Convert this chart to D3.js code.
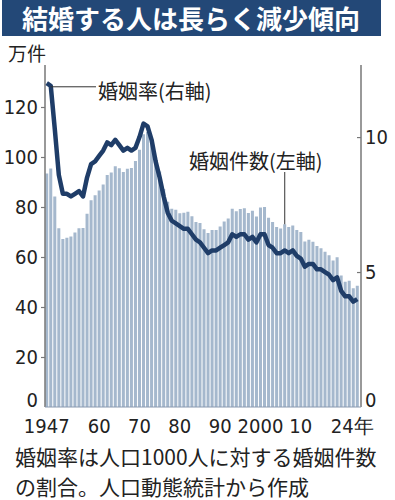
<!DOCTYPE html>
<html>
<head>
<meta charset="utf-8">
<script src="https://cdn.jsdelivr.net/npm/d3@7"></script>
<style>
  body { margin: 0; background: #fff; }
  .num { font-family: "Liberation Sans Narrow", "DejaVu Sans Condensed", sans-serif; font-size: 20px; fill: #222; }
  .jp { font-family: "Noto Sans CJK JP", sans-serif; fill: #222; }
</style>
</head>
<body>
<div id="chart"></div>
<script>
// marriages per year (万件) and marriage rate (per 1000 people), 1947-2024
const years = d3.range(1947, 2025);
const marriages = [
  93.4, 95.4, 84.2, 71.5, 67.2, 67.7, 68.2, 69.8, 71.5, 71.6,
  77.3, 82.7, 84.7, 86.6, 89.0, 92.8, 93.8, 96.3, 95.5, 94.0,
  95.3, 95.6, 98.4, 102.9, 109.1, 110.0, 107.2, 100.0, 94.2, 87.2,
  82.1, 79.3, 78.9, 77.5, 77.7, 78.1, 76.3, 74.0, 73.6, 71.1,
  69.6, 70.8, 70.8, 72.2, 74.2, 75.4, 79.3, 78.3, 79.2, 79.5,
  77.6, 78.5, 76.2, 79.8, 80.0, 75.7, 74.0, 72.0, 71.4, 73.1,
  72.0, 72.6, 70.8, 70.0, 66.2, 66.9, 66.1, 64.4, 63.5, 62.1,
  60.7, 58.6, 59.9, 52.6, 50.1, 50.5, 47.5, 48.5
];
const rate = [
  12.0, 11.9, 10.3, 8.6, 7.9, 7.9, 7.8, 7.9, 8.0, 7.8,
  8.5, 9.0, 9.1, 9.3, 9.5, 9.8, 9.7, 9.9, 9.7, 9.5,
  9.6, 9.5, 9.6, 10.0, 10.5, 10.4, 9.9, 9.1, 8.5, 7.8,
  7.2, 6.9, 6.8, 6.7, 6.6, 6.6, 6.4, 6.2, 6.1, 5.9,
  5.7, 5.8, 5.8, 5.9, 6.0, 6.1, 6.4, 6.3, 6.4, 6.4,
  6.2, 6.3, 6.1, 6.4, 6.4, 6.0, 5.9, 5.7, 5.7, 5.8,
  5.7, 5.8, 5.6, 5.5, 5.2, 5.3, 5.3, 5.1, 5.1, 5.0,
  4.9, 4.7, 4.8, 4.3, 4.1, 4.1, 3.9, 4.0
];
const leftTicks = [0, 20, 40, 60, 80, 100, 120];
const rightTicks = [0, 5, 10];
const xTickYears = [1947, 1960, 1970, 1980, 1990, 2000, 2010, 2024];
const xTickLabels = ["1947", "60", "70", "80", "90", "2000", "10", "24年"];

const W = 395, H = 500;
const margin = {left: 45, right: 361, top: 65, bottom: 407};

const svg = d3.select("#chart").append("svg")
    .attr("width", W)
    .attr("height", H);

// title banner
svg.append("rect")
    .attr("x", 2).attr("y", 0)
    .attr("width", 379).attr("height", 36)
    .attr("fill", "#234877");
svg.append("text")
    .attr("class", "jp")
    .attr("x", 22).attr("y", 29)
    .attr("font-size", 26)
    .attr("font-weight", 700)
    .style("fill", "#fff")
    .text("結婚する人は長らく減少傾向");

const x = d3.scaleBand()
    .domain(years)
    .range([margin.left, margin.right - 2])
    .paddingInner(0.25)
    .paddingOuter(0.05);
const yL = d3.scaleLinear().domain([0, 136.8]).range([margin.bottom, margin.top]);
const yR = d3.scaleLinear().domain([0, 12.67]).range([margin.bottom, margin.top]);

// bars
svg.append("g")
  .selectAll("rect")
  .data(years)
  .join("rect")
    .attr("x", d => x(d))
    .attr("y", (d, i) => yL(marriages[i]))
    .attr("width", x.bandwidth())
    .attr("height", (d, i) => margin.bottom - yL(marriages[i]))
    .attr("fill", "#a5b8cd");

// axes
const axL = svg.append("g")
    .attr("transform", "translate(" + margin.left + ",0)")
    .call(d3.axisLeft(yL).tickValues(leftTicks).tickSize(4).tickPadding(3));
const axR = svg.append("g")
    .attr("transform", "translate(" + margin.right + ",0)")
    .call(d3.axisRight(yR).tickValues(rightTicks).tickSize(-4).tickPadding(5));
[axL, axR].forEach(ax => {
  ax.select(".domain").remove();
  ax.selectAll("line").attr("stroke", "#777").attr("stroke-width", 1.2);
  ax.selectAll("text").attr("class", "num").attr("fill", null);
  // zero labels sit above the baseline
  ax.selectAll(".tick").filter(d => d === 0).select("text").attr("dy", "-0.05em");
  ax.selectAll(".tick").filter(d => d === 0).select("line").remove();
});
axR.selectAll("text").attr("x", 4);
svg.append("line")
    .attr("x1", margin.left).attr("x2", margin.left)
    .attr("y1", margin.top).attr("y2", margin.bottom)
    .attr("stroke", "#777").attr("stroke-width", 1.5);
svg.append("line")
    .attr("x1", margin.right).attr("x2", margin.right)
    .attr("y1", margin.top).attr("y2", margin.bottom)
    .attr("stroke", "#777").attr("stroke-width", 1.5);
svg.append("line")
    .attr("x1", margin.left).attr("x2", margin.right)
    .attr("y1", margin.bottom).attr("y2", margin.bottom)
    .attr("stroke", "#8a9ab0").attr("stroke-width", 1);

// x labels
svg.append("g")
  .selectAll("text")
  .data(xTickYears)
  .join("text")
    .attr("class", "num")
    .attr("x", d => x(d) + x.bandwidth() / 2 + (d === 2024 ? -5 : 0))
    .attr("y", 433)
    .attr("text-anchor", "middle")
    .text((d, i) => xTickLabels[i]);

// rate line
const line = d3.line()
    .x((d, i) => x(years[i]) + x.bandwidth() / 2)
    .y(d => yR(d));
svg.append("path")
    .datum(rate)
    .attr("d", line)
    .attr("fill", "none")
    .attr("stroke", "#1f3d68")
    .attr("stroke-width", 4.5)
    .attr("stroke-linejoin", "round");

// unit label
svg.append("text")
    .attr("class", "jp")
    .attr("x", 8).attr("y", 61)
    .attr("font-size", 19)
    .text("万件");

// callouts
const yRate48 = yR(rate[1]) + 1;
svg.append("line")
    .attr("x1", x(1948) + x.bandwidth() / 2).attr("x2", 96)
    .attr("y1", yRate48).attr("y2", yRate48)
    .attr("stroke", "#333").attr("stroke-width", 1);
svg.append("text")
    .attr("class", "jp")
    .attr("x", 98).attr("y", 99)
    .attr("font-size", 20)
    .text("婚姻率(右軸)");

const x06 = x(2006) + x.bandwidth() / 2;
svg.append("line")
    .attr("x1", x06).attr("x2", x06)
    .attr("y1", 172).attr("y2", yL(marriages[years.indexOf(2006)]))
    .attr("stroke", "#555").attr("stroke-width", 1.2);
svg.append("text")
    .attr("class", "jp")
    .attr("x", 189).attr("y", 169)
    .attr("font-size", 20)
    .text("婚姻件数(左軸)");

// footnote
svg.append("text")
    .attr("class", "jp")
    .attr("x", 15).attr("y", 465)
    .attr("font-size", 21)
    .text("婚姻率は人口1000人に対する婚姻件数");
svg.append("text")
    .attr("class", "jp")
    .attr("x", 15).attr("y", 495)
    .attr("font-size", 21)
    .text("の割合。人口動態統計から作成");
</script>
</body>
</html>
